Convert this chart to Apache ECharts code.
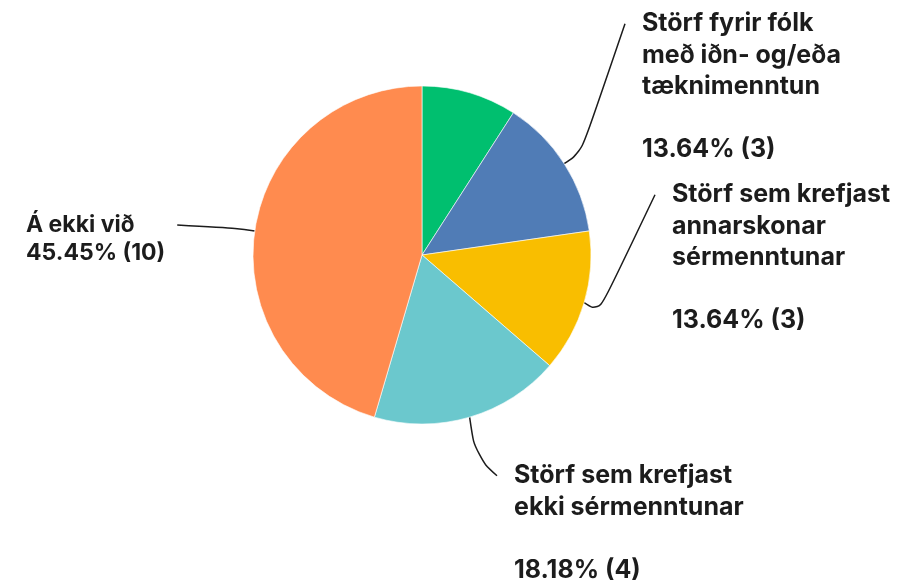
<!DOCTYPE html>
<html>
<head>
<meta charset="utf-8">
<script src="https://cdn.jsdelivr.net/npm/echarts@6/dist/echarts.min.js"></script>
<style>
  html, body { margin: 0; padding: 0; background: #fff; }
  #chart { width: 897px; height: 582px; }
</style>
</head>
<body>
<div id="chart"></div>
<script>
// svarflokkar, réttsælis frá kl. 12
var categories = [
    'Störf sem krefjast\nháskólamenntunar',
    'Störf fyrir fólk\nmeð iðn- og/eða\ntæknimenntun',
    'Störf sem krefjast\nannarskonar\nsérmenntunar',
    'Störf sem krefjast\nekki sérmenntunar',
    'Á ekki við'
];
var counts = [2, 3, 3, 4, 10];
var colors = ['#00bf6f', '#507cb6', '#f9be00', '#6bc8cd', '#ff8b4f'];
var showLabel = [false, true, true, true, true];

// label box (left, top), font size / line height, side the leader line meets
var labelPlaces = [
    null,
    {x: 642, y: 8, size: 25, lh: 31.5, side: 'left'},
    {x: 672, y: 179, size: 25, lh: 31.5, side: 'left'},
    {x: 514, y: 460, size: 25, lh: 31.5, side: 'left'},
    {x: 26, y: 211, size: 23, lh: 28, side: 'right'}
];

var myChart = echarts.init(document.getElementById('chart'));

var data = [];
categories.forEach(function (name, i) {
    var pl = labelPlaces[i];
    data.push({
        name: name,
        value: counts[i],
        itemStyle: {color: colors[i]},
        label: pl ? {show: true, fontSize: pl.size, lineHeight: pl.lh} : {show: false},
        labelLine: {show: showLabel[i]}
    });
});

var option = {
    animation: false,
    series: [
        {
            type: 'pie',
            center: [422, 255],
            radius: 169,
            startAngle: 90,
            clockwise: true,
            percentPrecision: 2,
            itemStyle: {borderColor: '#fff', borderWidth: 0.6},
            label: {
                color: '#1c1c1c',
                fontFamily: 'Inter',
                fontWeight: 700,
                fontSize: 25,
                lineHeight: 31.5,
                align: 'left',
                formatter: function (p) {
                    var sep = p.name.indexOf('\n') >= 0 ? '\n\n' : '\n';
                    return p.name + sep + p.percent.toFixed(2) + '% (' + p.value + ')';
                }
            },
            labelLine: {
                length: 20,
                length2: 20,
                smooth: 0.45,
                lineStyle: {color: '#1c1c1c', width: 1.5}
            },
            labelLayout: function (params) {
                var pos = labelPlaces[params.dataIndex];
                if (!pos || !params.labelLinePoints) {
                    return {};
                }
                var pts = params.labelLinePoints;
                var midY = pos.y + pos.lh / 2;
                var endX = pos.side === 'left'
                    ? pos.x - 17
                    : pos.x + params.labelRect.width + 12;
                return {
                    x: pos.x,
                    y: pos.y,
                    align: 'left',
                    verticalAlign: 'top',
                    labelLinePoints: [pts[0], pts[1], [endX, midY]]
                };
            },
            data: data
        }
    ]
};

myChart.setOption(option);
</script>
</body>
</html>
